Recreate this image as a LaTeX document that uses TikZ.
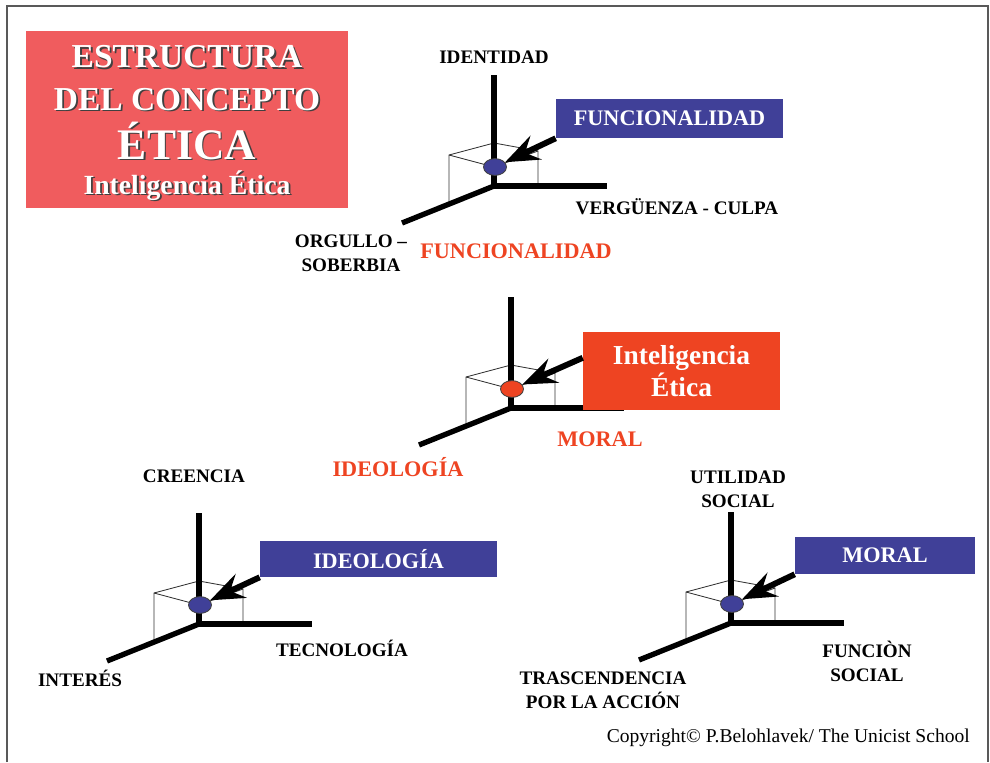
\documentclass[tikz,border=0pt]{standalone}
\usepackage{fontspec}
\setmainfont{Liberation Serif}
\usetikzlibrary{arrows.meta,shapes.geometric}

\definecolor{azul}{RGB}{64,64,152}
\definecolor{rojo}{RGB}{238,68,34}
\definecolor{salmon}{RGB}{240,92,94}

\newcommand\sombra[1]{\makebox[0pt][l]{\hspace{1.3pt}\raisebox{-1.3pt}{\color{black!75}#1}}#1}

\tikzset{
	eje/.style={line width=3.8pt},
	arista/.style={line width=0.6pt, black!80},
	punto/.style={ellipse, draw=black!75, line width=0.6pt, minimum width=0.575cm, minimum height=0.42cm, inner sep=0pt},
	flecha/.style={line width=4.2pt, -{Stealth[length=8.5mm,width=6.5mm,inset=3mm]}},
	caja/.style={fill=azul, text=white, font=\fontsize{15.8}{18}\selectfont\bfseries, inner sep=0pt},
	eti/.style={font=\fontsize{13.6}{17}\selectfont\bfseries, align=center},
	roja/.style={font=\fontsize{15.8}{18}\selectfont\bfseries, text=rojo, anchor=base},
	titulo/.style={text=white, anchor=base, inner sep=0pt},
}

\begin{document}
\begin{tikzpicture}[x=0.025cm, y=-0.025cm]
	\useasboundingbox (0,0) rectangle (990,762);
	\draw[gray!70!black, line width=1pt] (7,762) -- (7,6) -- (988,6) -- (988,762);

	% titulo
	\fill[salmon] (26,31) rectangle (348,208);
	\node[titulo, font=\fontsize{23.8}{26}\selectfont\bfseries] (tit1) at (187,68) {\sombra{ESTRUCTURA}};
	\node[titulo, font=\fontsize{23.8}{26}\selectfont\bfseries] (tit2) at (187,110) {\sombra{DEL CONCEPTO}};
	\node[titulo, font=\fontsize{31}{34}\selectfont\bfseries] (tit3) at (187,159) {\sombra{ÉTICA}};
	\node[titulo, font=\fontsize{19.7}{22}\selectfont\bfseries] (tit4) at (187,194) {\sombra{Inteligencia Ética}};

	% los cuatro cubos
	\foreach \x/\y/\c/\n in {494/186/azul/a, 511/408/rojo/b, 199/624/azul/c, 731/623/azul/d}{
		\draw[arista] (\x-45,\y+17) -- (\x-45,\y-31) -- (\x,\y-43) -- (\x+44,\y-35) -- (\x+44,\y);
		\draw[arista] (\x-45,\y-31) -- (\x,\y-19) -- (\x+44,\y-35);
		\draw[eje] (\x,\y-111) -- (\x,\y) -- (\x+113,\y);
		\draw[eje] (\x,\y) -- (\x-92,\y+37);
		\node[punto, fill=\c] (punto\n) at (\x+1,\y-19) {};
	}

	% arriba
	\node[eti, anchor=base] (identidad) at (494,63) {IDENTIDAD};
	\node[eti, anchor=base] (verguenza) at (677,214) {VERGÜENZA - CULPA};
	\node[eti] (orgullo) at (351,253) {ORGULLO –\\SOBERBIA};
	\node[roja] (funcional) at (516,258) {FUNCIONALIDAD};
	\node[caja, minimum width=5.675cm, minimum height=0.975cm] (funcb) at (669.5,118.5) {FUNCIONALIDAD};
	\draw[flecha] (funcb.south west) -- (puntoa);

	% centro
	\node[fill=rojo, text=white, inner sep=0pt, align=center, minimum width=4.925cm, minimum height=1.95cm,
		font=\fontsize{19.5}{22.7}\selectfont\bfseries] (ie) at (681.5,371) {Inteligencia\\Ética};
	\node[roja] (moral) at (600,446.5) {MORAL};
	\node[roja] (ideologia) at (398,476.5) {IDEOLOGÍA};
	\draw[flecha] ([yshift=0.33cm]ie.west) -- (puntob);

	% abajo izquierda
	\node[eti, anchor=base] (creencia) at (194,482.5) {CREENCIA};
	\node[eti, anchor=base] (tecnologia) at (342,656.5) {TECNOLOGÍA};
	\node[eti, anchor=base] (interes) at (80,686) {INTERÉS};
	\node[caja, minimum width=5.925cm, minimum height=0.9cm] (ideob) at (378.5,559) {IDEOLOGÍA};
	\draw[flecha] (ideob.south west) -- (puntoc);

	% abajo derecha
	\node[eti] (utilidad) at (738,489.5) {UTILIDAD\\SOCIAL};
	\node[eti] (funcion) at (867,661) {FUNCIÒN\\SOCIAL};
	\node[eti] (trasc) at (603,690.5) {TRASCENDENCIA\\POR LA ACCIÓN};
	\node[caja, minimum width=4.5cm, minimum height=0.925cm] (moralb) at (885,555.5) {MORAL};
	\draw[flecha] (moralb.south west) -- (puntod);

	\node[font=\fontsize{13.9}{16}\selectfont, anchor=base east, inner sep=0pt] (copy) at (970,742.5) {Copyright© P.Belohlavek/ The Unicist School};
\end{tikzpicture}
\end{document}
